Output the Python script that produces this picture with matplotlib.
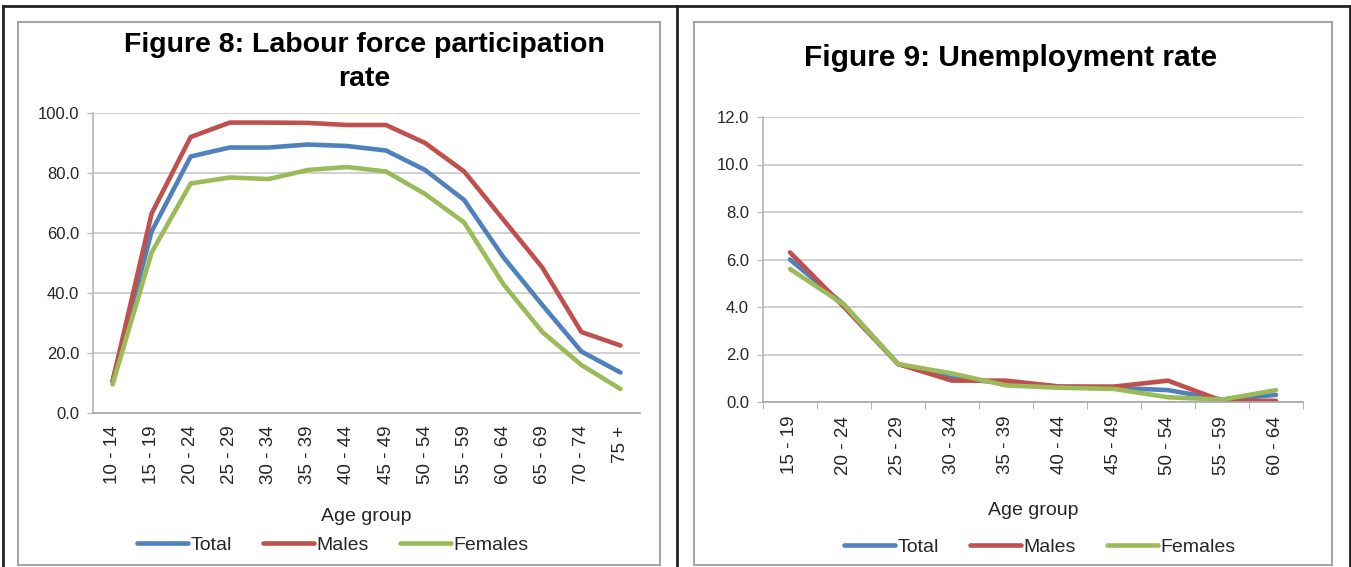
import matplotlib
matplotlib.use("Agg")
import matplotlib.pyplot as plt
from matplotlib.lines import Line2D
from matplotlib.patches import Rectangle

plt.rcParams['font.family'] = ['Liberation Sans', 'DejaVu Sans']

# Figure 8: labour force participation rate (%)
lfp_groups = ["10 - 14", "15 - 19", "20 - 24", "25 - 29", "30 - 34", "35 - 39", "40 - 44",
              "45 - 49", "50 - 54", "55 - 59", "60 - 64", "65 - 69", "70 - 74", "75 +"]
lfp_total = [10.5, 60.5, 85.5, 88.5, 88.5, 89.5, 89.0, 87.5, 81.0, 71.0, 52.0, 36.0, 20.5, 13.5]
lfp_males = [10.5, 66.5, 92.0, 96.8, 96.8, 96.7, 96.0, 96.0, 90.0, 80.5, 64.5, 48.5, 27.0, 22.5]
lfp_females = [9.5, 53.5, 76.5, 78.5, 78.0, 81.0, 82.0, 80.5, 73.0, 63.5, 43.0, 27.0, 16.0, 8.0]

# Figure 9: unemployment rate (%)
unemp_groups = ["15 - 19", "20 - 24", "25 - 29", "30 - 34", "35 - 39",
                "40 - 44", "45 - 49", "50 - 54", "55 - 59", "60 - 64"]
unemp_total = [6.0, 4.1, 1.6, 1.0, 0.8, 0.65, 0.6, 0.5, 0.1, 0.3]
unemp_males = [6.3, 4.0, 1.6, 0.9, 0.9, 0.65, 0.65, 0.9, 0.05, 0.05]
unemp_females = [5.6, 4.1, 1.6, 1.2, 0.7, 0.6, 0.55, 0.2, 0.1, 0.5]

series_names = ["Total", "Males", "Females"]
colors = ['#4f81bd', '#c0504d', '#9bbb59']

W, H = 1351, 567
fig = plt.figure(figsize=(W / 100, H / 100), dpi=100)


def px_rect(x0, y0, x1, y1):
    # pixel box (top-left origin) -> figure fraction [l, b, w, h]
    return [x0 / W, 1 - y1 / H, (x1 - x0) / W, (y1 - y0) / H]


# table borders around the two panels
for xs, ys in [([3, 1350], [6, 6]), ([3, 3], [6, 567]), ([677, 677], [6, 567]), ([1350, 1350], [6, 567])]:
    fig.add_artist(Line2D([x / W for x in xs], [1 - y / H for y in ys], color='#222222', lw=2))

# chart area boxes
for x0, x1 in [(18, 660), (694, 1332)]:
    l, b, w, h = px_rect(x0, 22, x1, 565)
    fig.add_artist(Rectangle((l, b), w, h, fill=False, ec='#a6a6a6', lw=1.5))


def style_axes(ax, groups, ymax, ystep, boundary_ticks, xlabelpad):
    n = len(groups)
    ax.set_xlim(-0.5, n - 0.5)
    ax.set_ylim(0, ymax)
    ax.set_yticks([i * ystep for i in range(int(round(ymax / ystep)) + 1)])
    ax.set_yticklabels([f"{v:.1f}" for v in ax.get_yticks()])
    ax.grid(axis='y', color='#c8c8c8', lw=1.2)
    ax.set_axisbelow(True)
    for s in ['top', 'right']:
        ax.spines[s].set_visible(False)
    ax.spines['left'].set_color('#b5b5b5')
    ax.spines['bottom'].set_color('#a6a6a6')
    ax.spines['left'].set_linewidth(1.2)
    ax.spines['bottom'].set_linewidth(1.2)
    ax.tick_params(axis='y', length=4, color='#b5b5b5', labelsize=12, labelcolor='#262626', pad=6)
    ax.set_xticks(range(n))
    ax.set_xticklabels(groups, rotation=90, fontsize=13.5, color='#262626')
    if boundary_ticks:
        ax.set_xticks([i - 0.5 for i in range(n + 1)], minor=True)
        ax.tick_params(axis='x', which='minor', length=5, color='#a6a6a6')
        ax.tick_params(axis='x', which='major', length=0, pad=10)
    else:
        ax.tick_params(axis='x', which='major', length=0, pad=9)
    ax.set_xlabel("Age group", fontsize=14, color='#262626', labelpad=xlabelpad)


# left panel
ax1 = fig.add_axes(px_rect(93, 113, 640, 413))
for vals, name, c in zip([lfp_total, lfp_males, lfp_females], series_names, colors):
    ax1.plot(range(len(lfp_groups)), vals, color=c, lw=3.3, label=name, solid_capstyle='round')
style_axes(ax1, lfp_groups, 100, 20, False, 17)
fig.text(364 / W, 1 - 62 / H, "Figure 8: Labour force participation\nrate", ha='center', va='center',
         fontsize=20.5, fontweight='bold', linespacing=1.38)
h, lab = ax1.get_legend_handles_labels()
fig.legend(h, lab, loc='center', bbox_to_anchor=(333 / W, 1 - 545 / H), ncol=3, frameon=False,
           fontsize=14, handlelength=2.6, handletextpad=0.15, columnspacing=1.6,
           labelcolor='#262626')

# right panel
ax2 = fig.add_axes(px_rect(763, 117, 1303, 402))
for vals, name, c in zip([unemp_total, unemp_males, unemp_females], series_names, colors):
    ax2.plot(range(len(unemp_groups)), vals, color=c, lw=3.3, label=name, solid_capstyle='round')
style_axes(ax2, unemp_groups, 12, 2, True, 20)
fig.text(1011 / W, 1 - 58 / H, "Figure 9: Unemployment rate", ha='center', va='center',
         fontsize=21.5, fontweight='bold')
h, lab = ax2.get_legend_handles_labels()
fig.legend(h, lab, loc='center', bbox_to_anchor=(1040 / W, 1 - 547 / H), ncol=3, frameon=False,
           fontsize=14, handlelength=2.6, handletextpad=0.15, columnspacing=1.6,
           labelcolor='#262626')

fig.savefig("out.png", dpi=100)
